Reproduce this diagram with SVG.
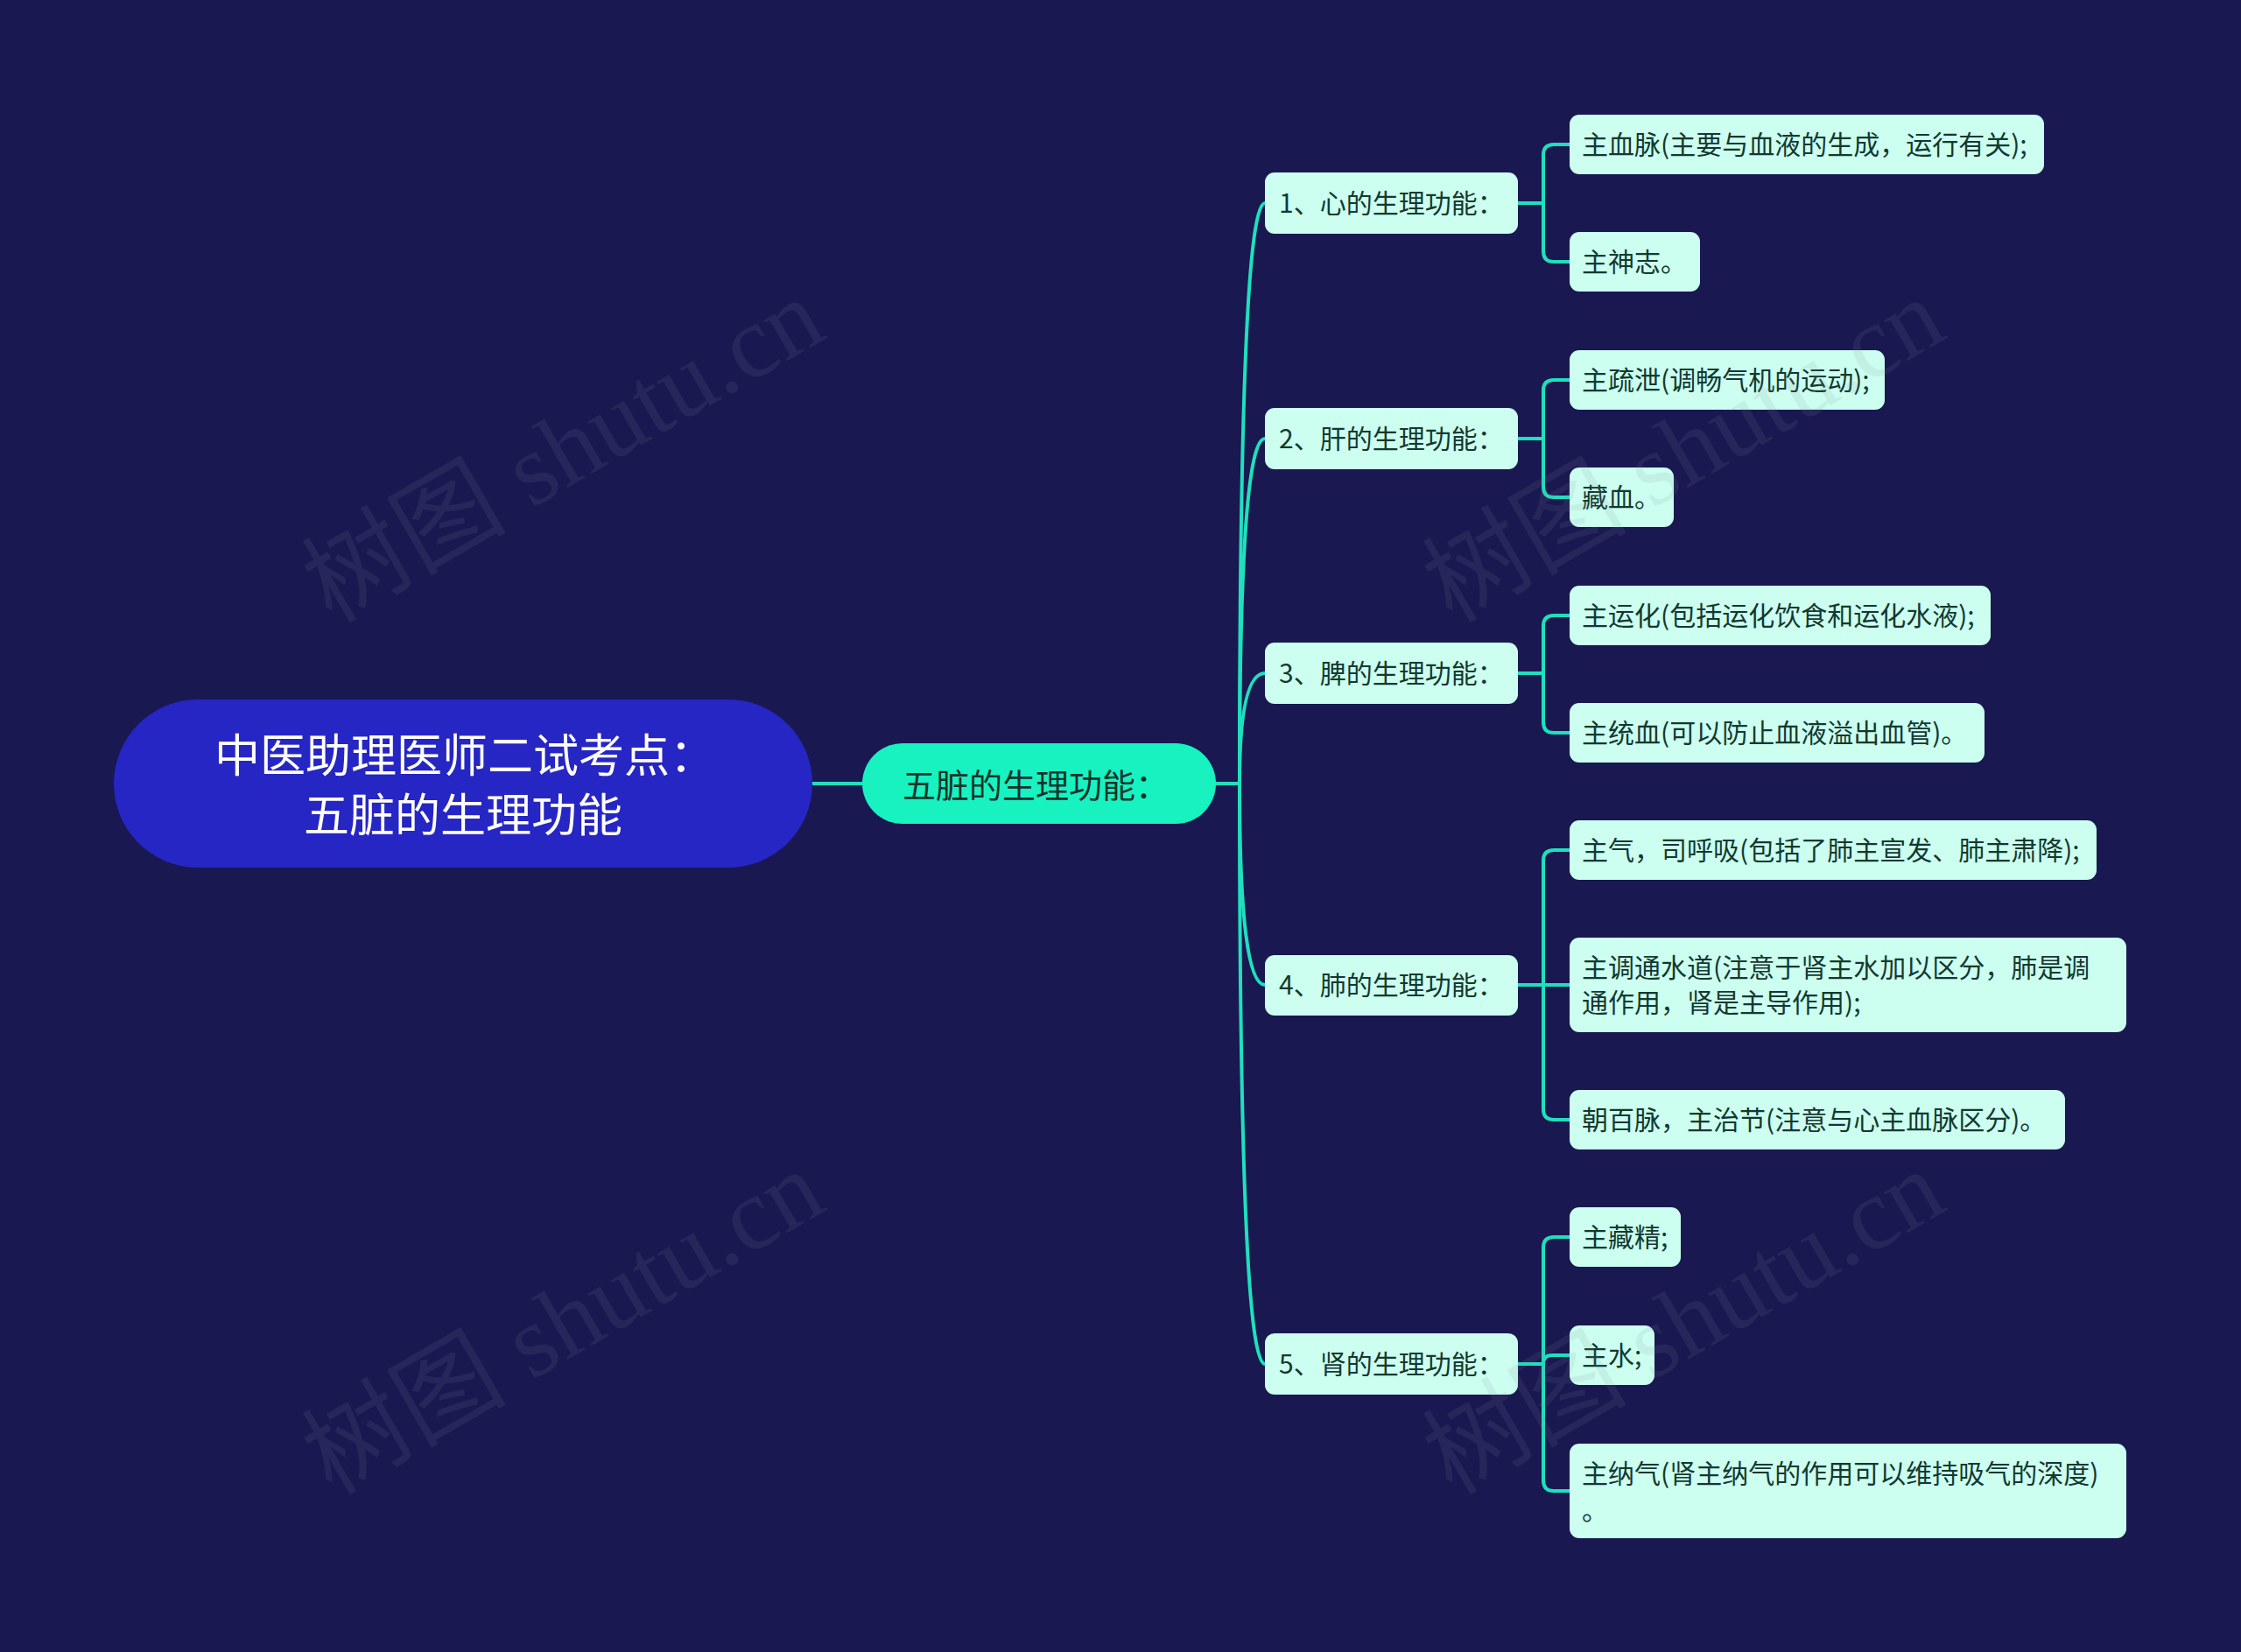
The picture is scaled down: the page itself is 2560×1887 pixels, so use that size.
<svg xmlns="http://www.w3.org/2000/svg" width="2560" height="1887" viewBox="0 0 2560 1887">
<style>
.cjk{font-family:"Noto Sans CJK SC","Noto Sans",sans-serif}
.root-t{fill:#ffffff;font-size:52px}
.sub-t{fill:#14332c;font-size:38px}
.l2{fill:#ccfff0}
.l2-t{fill:#12392f;font-size:30px}
.l3{fill:#ccfff0}
.l3-t{fill:#12392f;font-size:30px}
.conn{fill:none;stroke:#1fe0bd;stroke-width:4;stroke-linecap:round;stroke-linejoin:round}
.wm{font-family:"Liberation Serif","Noto Sans CJK SC",serif;font-size:117px;fill:#8a8a9a;opacity:0.12}
</style>
<rect x="0" y="0" width="2560" height="1887" fill="#191851"/>

<g id="connectors">
<path class="conn" d="M928,895 H985" stroke-width="5"/>
<path class="conn" d="M1389,895 H1416"/>
<path class="conn" d="M1416,895 Q1416,232 1445,232"/>
<path class="conn" d="M1416,895 Q1416,501 1445,501"/>
<path class="conn" d="M1416,895 Q1416,769 1445,769"/>
<path class="conn" d="M1416,895 Q1416,1125 1445,1125"/>
<path class="conn" d="M1416,895 Q1416,1558 1445,1558"/>

<path class="conn" d="M1734,232 H1763 V177 Q1763,165 1775,165 H1793"/>
<path class="conn" d="M1734,232 H1763 V287 Q1763,299 1775,299 H1793"/>
<path class="conn" d="M1734,501 H1763 V446 Q1763,434 1775,434 H1793"/>
<path class="conn" d="M1734,501 H1763 V556 Q1763,568 1775,568 H1793"/>
<path class="conn" d="M1734,769 H1763 V715 Q1763,703 1775,703 H1793"/>
<path class="conn" d="M1734,769 H1763 V825 Q1763,837 1775,837 H1793"/>
<path class="conn" d="M1734,1125 H1763 V983 Q1763,971 1775,971 H1793"/>
<path class="conn" d="M1734,1125 H1793"/>
<path class="conn" d="M1734,1125 H1763 V1267 Q1763,1279 1775,1279 H1793"/>
<path class="conn" d="M1734,1558 H1763 V1425 Q1763,1413 1775,1413 H1793"/>
<path class="conn" d="M1734,1558 H1763 Q1763,1548 1773,1548 H1793"/>
<path class="conn" d="M1734,1558 H1763 V1691 Q1763,1703 1775,1703 H1793"/>
</g>

<g id="root">
<rect x="130" y="799" width="798" height="192" rx="96" fill="#2626c4"/>
<text class="cjk root-t" x="531" y="859" text-anchor="middle" dominant-baseline="central">中医助理医师二试考点：</text>
<text class="cjk root-t" x="529" y="927" text-anchor="middle" dominant-baseline="central">五脏的生理功能</text>
</g>

<g id="sub">
<rect x="985" y="849" width="404" height="92" rx="46" fill="#17f2c0"/>
<text class="cjk sub-t" x="1031" y="894" dominant-baseline="central">五脏的生理功能：</text>
</g>

<g id="n1"><rect class="l2" x="1445" y="197" width="289" height="70" rx="11"/><text class="cjk l2-t" x="1461" y="230" dominant-baseline="central">1、心的生理功能：</text></g>
<g id="n2"><rect class="l2" x="1445" y="466" width="289" height="70" rx="11"/><text class="cjk l2-t" x="1461" y="499" dominant-baseline="central">2、肝的生理功能：</text></g>
<g id="n3"><rect class="l2" x="1445" y="734" width="289" height="70" rx="11"/><text class="cjk l2-t" x="1461" y="767" dominant-baseline="central">3、脾的生理功能：</text></g>
<g id="n4"><rect class="l2" x="1445" y="1091" width="289" height="69" rx="11"/><text class="cjk l2-t" x="1461" y="1123" dominant-baseline="central">4、肺的生理功能：</text></g>
<g id="n5"><rect class="l2" x="1445" y="1523" width="289" height="70" rx="11"/><text class="cjk l2-t" x="1461" y="1556" dominant-baseline="central">5、肾的生理功能：</text></g>

<g id="a1"><rect class="l3" x="1793" y="131" width="542" height="68" rx="11"/><text class="cjk l3-t" x="1807" y="163" dominant-baseline="central">主血脉(主要与血液的生成，运行有关);</text></g>
<g id="a2"><rect class="l3" x="1793" y="265" width="149" height="68" rx="11"/><text class="cjk l3-t" x="1807" y="297" dominant-baseline="central">主神志。</text></g>
<g id="b1"><rect class="l3" x="1793" y="400" width="360" height="68" rx="11"/><text class="cjk l3-t" x="1807" y="432" dominant-baseline="central">主疏泄(调畅气机的运动);</text></g>
<g id="b2"><rect class="l3" x="1793" y="534" width="119" height="68" rx="11"/><text class="cjk l3-t" x="1807" y="566" dominant-baseline="central">藏血。</text></g>
<g id="c1"><rect class="l3" x="1793" y="669" width="481" height="68" rx="11"/><text class="cjk l3-t" x="1807" y="701" dominant-baseline="central">主运化(包括运化饮食和运化水液);</text></g>
<g id="c2"><rect class="l3" x="1793" y="803" width="474" height="68" rx="11"/><text class="cjk l3-t" x="1807" y="835" dominant-baseline="central">主统血(可以防止血液溢出血管)。</text></g>
<g id="d1"><rect class="l3" x="1793" y="937" width="602" height="68" rx="11"/><text class="cjk l3-t" x="1807" y="969" dominant-baseline="central">主气，司呼吸(包括了肺主宣发、肺主肃降);</text></g>
<g id="d2"><rect class="l3" x="1793" y="1071" width="636" height="108" rx="11"/><text class="cjk l3-t" x="1807" y="1103" dominant-baseline="central">主调通水道(注意于肾主水加以区分，肺是调</text><text class="cjk l3-t" x="1807" y="1143" dominant-baseline="central">通作用，肾是主导作用);</text></g>
<g id="d3"><rect class="l3" x="1793" y="1245" width="566" height="68" rx="11"/><text class="cjk l3-t" x="1807" y="1277" dominant-baseline="central">朝百脉，主治节(注意与心主血脉区分)。</text></g>
<g id="e1"><rect class="l3" x="1793" y="1379" width="127" height="68" rx="11"/><text class="cjk l3-t" x="1807" y="1411" dominant-baseline="central">主藏精;</text></g>
<g id="e2"><rect class="l3" x="1793" y="1514" width="97" height="68" rx="11"/><text class="cjk l3-t" x="1807" y="1546" dominant-baseline="central">主水;</text></g>
<g id="e3"><rect class="l3" x="1793" y="1649" width="636" height="108" rx="11"/><text class="cjk l3-t" x="1807" y="1681" dominant-baseline="central">主纳气(肾主纳气的作用可以维持吸气的深度)</text><text class="cjk l3-t" x="1807" y="1723" dominant-baseline="central">。</text></g>

<g id="watermark">
<text class="wm" x="643" y="554" text-anchor="middle" transform="rotate(-30 643 514)">树图 shutu.cn</text>
<text class="wm" x="1923" y="554" text-anchor="middle" transform="rotate(-30 1923 514)">树图 shutu.cn</text>
<text class="wm" x="643" y="1550" text-anchor="middle" transform="rotate(-30 643 1510)">树图 shutu.cn</text>
<text class="wm" x="1923" y="1550" text-anchor="middle" transform="rotate(-30 1923 1510)">树图 shutu.cn</text>
</g>
</svg>
